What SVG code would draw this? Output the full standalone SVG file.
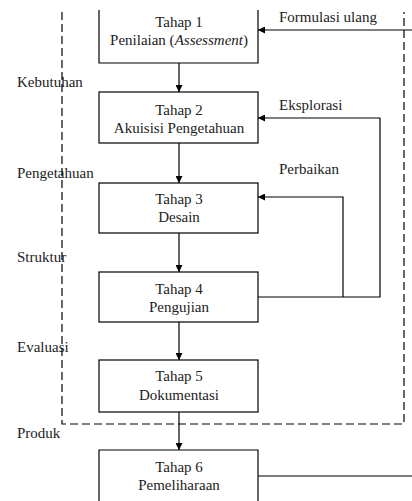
<svg xmlns="http://www.w3.org/2000/svg" width="412" height="501" viewBox="0 0 412 501">
<style>
.box{fill:#fff;stroke:#000;stroke-width:1.2}
.ln{fill:none;stroke:#000;stroke-width:1.2}
.dash{fill:none;stroke:#000;stroke-width:1.2;stroke-dasharray:8 4}
text{font-family:"Liberation Serif","Times New Roman",serif;font-size:15px;fill:#222}
.c{text-anchor:middle}
</style>
<defs>
<marker id="ah" viewBox="0 0 10 10" refX="10" refY="5" markerWidth="7" markerHeight="7" markerUnits="userSpaceOnUse" orient="auto">
<path d="M0,0 L10,5 L0,10 z" fill="#000"/>
</marker>
</defs>
<rect width="412" height="501" fill="#fff"/>
<g id="labels">
<text x="17" y="87">Kebutuhan</text>
<text x="17" y="178">Pengetahuan</text>
<text x="17" y="262">Struktur</text>
<text x="17" y="352">Evaluasi</text>
<text x="17" y="438">Produk</text>
</g>
<g id="boundary">
<path class="dash" d="M62,12 V424 H404 V12"/>
</g>
<g id="connectors">
<line class="ln" x1="179" y1="63" x2="179" y2="92" marker-end="url(#ah)"/>
<line class="ln" x1="179" y1="143" x2="179" y2="183" marker-end="url(#ah)"/>
<line class="ln" x1="179" y1="233" x2="179" y2="272" marker-end="url(#ah)"/>
<line class="ln" x1="179" y1="322" x2="179" y2="360" marker-end="url(#ah)"/>
<line class="ln" x1="179" y1="412" x2="179" y2="450" marker-end="url(#ah)"/>
<line class="ln" x1="412" y1="30" x2="258" y2="30" marker-end="url(#ah)"/>
<path class="ln" d="M258,297 H380 V118 H258" marker-end="url(#ah)"/>
<path class="ln" d="M343,297 V197 H258" marker-end="url(#ah)"/>
<line class="ln" x1="258" y1="476" x2="412" y2="476"/>
<text x="279" y="22">Formulasi ulang</text>
<text x="279" y="110">Eksplorasi</text>
<text x="279" y="174">Perbaikan</text>
</g>
<g id="tahap1">
<path class="box" d="M99,10 V63 H258 V10"/>
<text class="c" x="179" y="27">Tahap 1</text>
<text class="c" x="179" y="45">Penilaian (<tspan font-style="italic">Assessment</tspan>)</text>
</g>
<g id="tahap2">
<rect class="box" x="99" y="92" width="159" height="51"/>
<text class="c" x="179" y="115">Tahap 2</text>
<text class="c" x="179" y="133">Akuisisi Pengetahuan</text>
</g>
<g id="tahap3">
<rect class="box" x="99" y="183" width="159" height="50"/>
<text class="c" x="179" y="204">Tahap 3</text>
<text class="c" x="179" y="222">Desain</text>
</g>
<g id="tahap4">
<rect class="box" x="99" y="272" width="159" height="50"/>
<text class="c" x="179" y="294">Tahap 4</text>
<text class="c" x="179" y="312">Pengujian</text>
</g>
<g id="tahap5">
<rect class="box" x="99" y="360" width="159" height="52"/>
<text class="c" x="179" y="381">Tahap 5</text>
<text class="c" x="179" y="400">Dokumentasi</text>
</g>
<g id="tahap6">
<path class="box" d="M99,510 V450 H258 V510"/>
<text class="c" x="179" y="472">Tahap 6</text>
<text class="c" x="179" y="490">Pemeliharaan</text>
</g>
</svg>
